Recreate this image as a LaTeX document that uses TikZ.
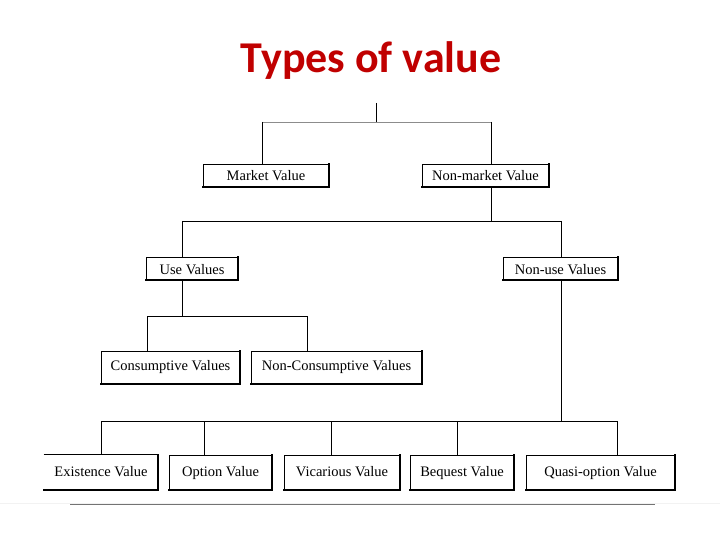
\documentclass[tikz,border=0pt]{standalone}
\usepackage{fontspec}
\setmainfont{Liberation Serif}
\newfontfamily\titlefont{Carlito}
\definecolor{titlered}{RGB}{192,0,0}
\begin{document}
\begin{tikzpicture}[x=1pt,y=-1pt,
  vbox/.style={draw=black,line width=0.9pt,fill=white,inner sep=0pt,text height=10pt,text depth=3pt,font=\fontsize{14.5}{16}\selectfont},
  rowa/.style={text height=11pt,text depth=0pt},
  rowb/.style={text height=8pt,text depth=3pt},
  conn/.style={draw=black,line width=0.9pt},
  shadowedge/.style={draw=black,line width=2pt,line cap=rect}]
\useasboundingbox (0,0) rectangle (720,540);
% title
\node[anchor=base,font=\titlefont\bfseries\fontsize{44}{48}\selectfont,text=titlered] (title) at (371,73) {Types of value};
% boxes
\node[vbox,rowa,minimum width=126pt,minimum height=23pt] (mv) at (266,175.5) {Market Value};
\node[vbox,rowa,minimum width=127pt,minimum height=23pt] (nmv) at (485.5,175.5) {Non-market Value};
\node[vbox,rowa,minimum width=92pt,minimum height=23pt] (uv) at (192,268.5) {Use Values};
\node[vbox,rowa,minimum width=115pt,minimum height=23pt] (nuv) at (560.5,268.5) {Non-use Values};
\node[vbox,rowb,minimum width=139pt,minimum height=33pt] (cv) at (170.5,367.5) {Consumptive Values};
\node[vbox,rowb,minimum width=171pt,minimum height=33pt] (ncv) at (336.5,367.5) {Non-Consumptive Values};
\node[vbox,draw=none,minimum width=114pt,minimum height=35pt] (ev) at (101,472.5) {Existence Value};
\node[vbox,minimum width=103pt,minimum height=35pt] (ov) at (220.5,472.5) {Option Value};
\node[vbox,minimum width=116pt,minimum height=35pt] (vv) at (342,472.5) {Vicarious Value};
\node[vbox,minimum width=104pt,minimum height=35pt] (bv) at (462,472.5) {Bequest Value};
\node[vbox,minimum width=149pt,minimum height=35pt] (qv) at (600.5,472.5) {Quasi-option Value};
% existence box has no left border
\draw[line width=0.9pt] (ev.north west) -- (ev.north east);
% shadowed right/bottom edges
\foreach \n in {mv,nmv,uv,nuv,cv,ncv,ev,ov,vv,bv,qv}{
  \draw[shadowedge] (\n.north east) -- (\n.south east) -- (\n.south west);
}
% junction coordinates
\coordinate (top) at (376,103);
\coordinate (bus1) at (376,122);
\coordinate (b1l) at (262,122);
\coordinate (b1r) at (491,122);
\coordinate (b2l) at (182,221);
\coordinate (b2r) at (561,221);
\coordinate (b2m) at (491,221);
\coordinate (b3l) at (147,316);
\coordinate (b3r) at (307,316);
\coordinate (b3m) at (182,316);
\coordinate (b4a) at (101,421);
\coordinate (b4b) at (204,421);
\coordinate (b4c) at (331,421);
\coordinate (b4d) at (457,421);
\coordinate (b4e) at (617,421);
\coordinate (b4m) at (561,421);
% level 1
\draw[conn] (top) -- (bus1);
\draw[line width=0.9pt,draw=black!45] (b1l) -- (b1r);
\draw[conn] (b1l) -- (b1l |- mv.north);
\draw[conn] (b1r) -- (b1r |- nmv.north);
% level 2
\draw[conn] (b2m |- nmv.south) -- (b2m);
\draw[conn] (b2l) -- (b2r);
\draw[conn] (b2l) -- (b2l |- uv.north);
\draw[conn] (b2r) -- (b2r |- nuv.north);
% level 3
\draw[conn] (b3m |- uv.south) -- (b3m);
\draw[conn] (b3l) -- (b3r);
\draw[conn] (b3l) -- (b3l |- cv.north);
\draw[conn] (b3r) -- (b3r |- ncv.north);
% level 4
\draw[conn] (b4m |- nuv.south) -- (b4m);
\draw[conn] (b4a) -- (b4e);
\draw[conn] (b4a) -- (b4a |- ev.north);
\draw[conn] (b4b) -- (b4b |- ov.north);
\draw[conn] (b4c) -- (b4c |- vv.north);
\draw[conn] (b4d) -- (b4d |- bv.north);
\draw[conn] (b4e) -- (b4e |- qv.north);
% bottom rule
\coordinate (r0) at (0,503.5);
\coordinate (r1) at (70,504);
\coordinate (r2) at (655,504);
\coordinate (r3) at (720,503.5);
\draw[line width=0.8pt,draw=black!5] (r0) -- (r3);
\draw[line width=0.8pt,draw=black!55] (r1) -- (r2);
\end{tikzpicture}
\end{document}
